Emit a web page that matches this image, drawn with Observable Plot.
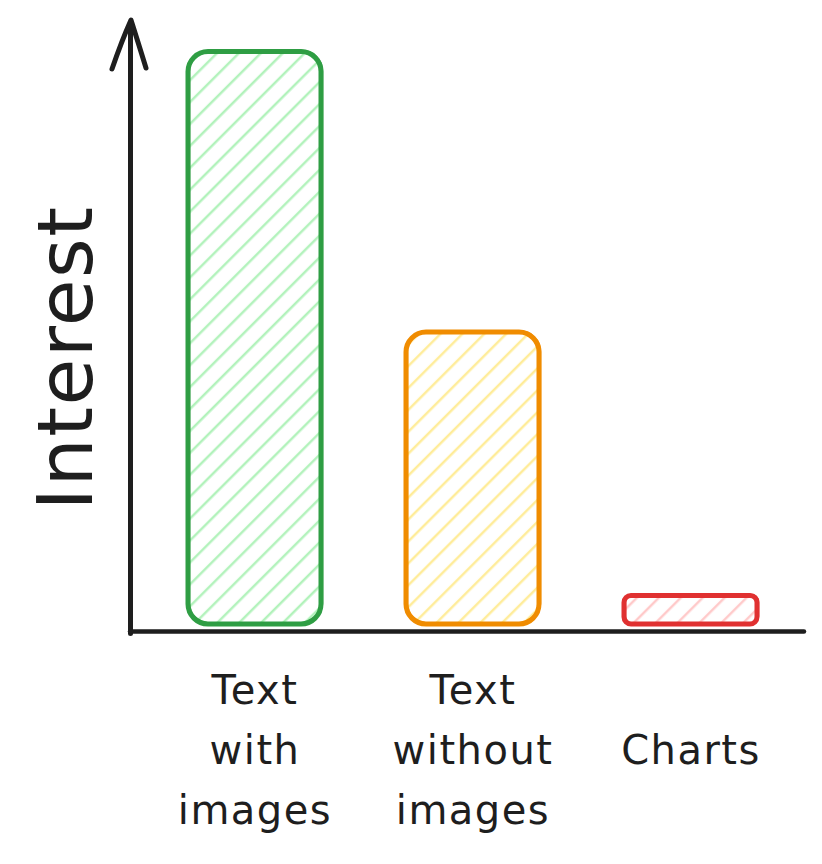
<!DOCTYPE html>
<html><head><meta charset="utf-8">
<script src="https://cdn.jsdelivr.net/npm/d3@7"></script>
<script src="https://cdn.jsdelivr.net/npm/@observablehq/plot@0.6"></script>
<style>body{margin:0;background:#fff}</style>
</head><body><div id="chart"></div>
<script>
const categories = ["Text with images", "Text without images", "Charts"];
const values = [100, 51, 5];
const tickLabels = ["Text\nwith\nimages", "Text\nwithout\nimages", "Charts"];
const yLabel = "Interest";
const strokeColors = ["#2f9e44", "#f08c00", "#e03131"];
const hatchColors = ["#b2f2bb", "#ffec99", "#ffc9c9"];

const data = categories.map((c, i) => ({category: c, value: values[i], label: tickLabels[i]}));

const defs = `<svg width="0" height="0" style="position:absolute"><defs>${hatchColors.map((c,i)=>`<pattern id="hatch${i}" patternUnits="userSpaceOnUse" width="15.5" height="15.5" patternTransform="rotate(45)"><line x1="5" y1="-1" x2="5" y2="17" stroke="${c}" stroke-width="2.5"/></pattern>`).join("")}</defs></svg>`;
document.body.insertAdjacentHTML("afterbegin", defs);

function arrowHead(index, scales, values, dimensions) {
  const x = dimensions.marginLeft, y = dimensions.marginTop - 3;
  return d3.create("svg:path")
    .attr("d", `M${x-18},${y+49} Q${x-8},${y+20} ${x+1},${y} Q${x+8},${y+22} ${x+16},${y+48}`)
    .attr("fill", "none").attr("stroke", "#1e1e1e").attr("stroke-width", 5)
    .attr("stroke-linecap", "round").attr("stroke-linejoin", "round")
    .node();
}

const plot = Plot.plot({
  width: 822, height: 864,
  marginLeft: 130, marginRight: 20, marginTop: 23, marginBottom: 240,
  x: {domain: categories, paddingInner: 0.39, paddingOuter: 0.23, align: 0.56, axis: null},
  y: {domain: [0, 105], axis: null},
  style: {fontFamily: "'DejaVu Sans', sans-serif", color: "#1e1e1e", background: "white", letterSpacing: "1.5px"},
  marks: [
    ...categories.map((c, i) => Plot.barY(data.filter(d => d.category === c), {
      x: "category", y: "value", fill: `url(#hatch${i})`, stroke: strokeColors[i],
      strokeWidth: 5, rx: i === 2 ? 7 : 20, strokeLinejoin: "round"
    })),
    ...categories.map((c, i) => Plot.barY(data.filter(d => d.category === c), {
      x: "category", y: "value", fill: "none", stroke: strokeColors[i],
      strokeWidth: 1.5, rx: i === 2 ? 7 : 20, dx: 1.5, dy: -1, strokeOpacity: 0.8
    })),
    Plot.frame({anchor: "left", stroke: "#1e1e1e", strokeWidth: 5, insetBottom: -9, strokeLinecap: "round"}),
    Plot.ruleY([0], {dy: 7, stroke: "#1e1e1e", strokeWidth: 4.5, strokeLinecap: "round", insetRight: -2}),
    arrowHead,
    Plot.text(data, {x: "category", text: "label", frameAnchor: "bottom", dy: 120, lineAnchor: "middle", textAnchor: "middle", lineHeight: 1.5, fontSize: 40, fill: "#1e1e1e"}),
    Plot.text([yLabel], {frameAnchor: "left", dx: -63, dy: 34, rotate: -90, textAnchor: "middle", fontSize: 76, fill: "#1e1e1e"})
  ]
});
document.getElementById("chart").appendChild(plot);
</script>
</body></html>
